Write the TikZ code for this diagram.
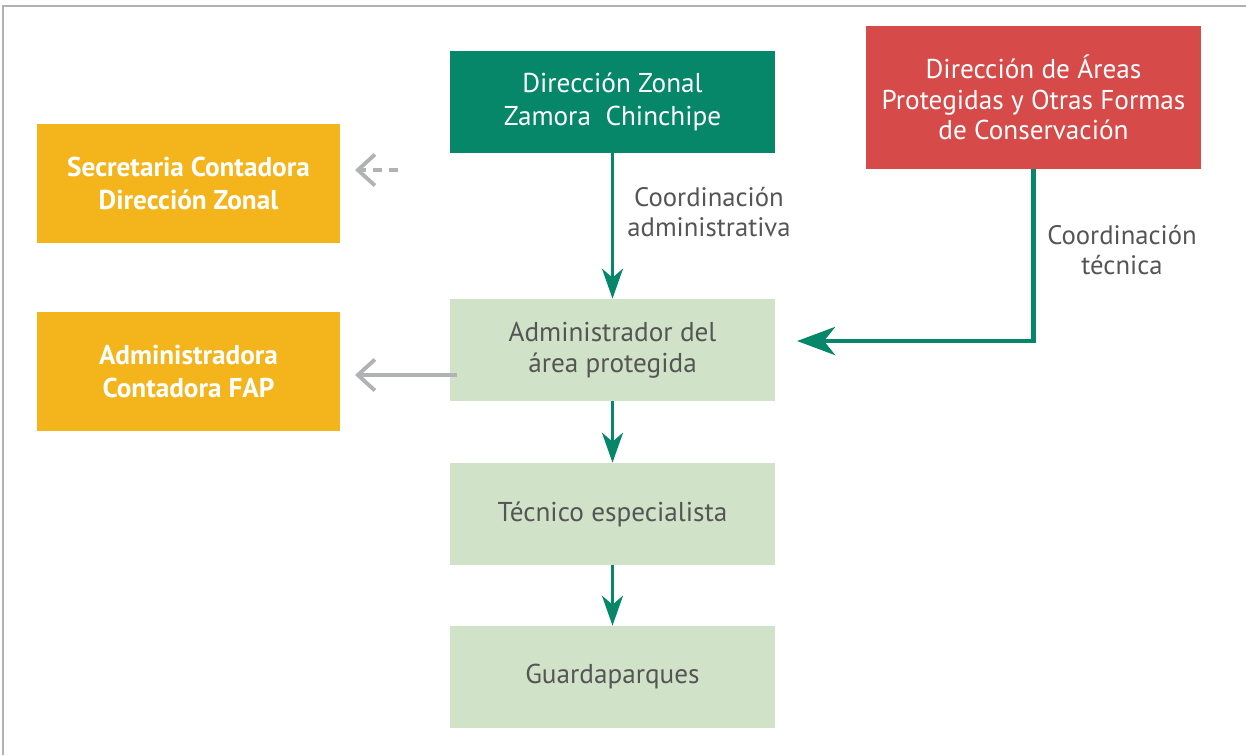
\documentclass[tikz,border=0pt]{standalone}
\usepackage{fontspec}
\setmainfont{PT Sans}
\usetikzlibrary{arrows.meta}
\definecolor{zonalgreen}{RGB}{6,135,106}
\definecolor{dirred}{RGB}{214,75,74}
\definecolor{fapyellow}{RGB}{244,180,28}
\definecolor{palegreen}{RGB}{208,227,200}
\definecolor{arrowgray}{RGB}{176,178,180}
\definecolor{textgray}{RGB}{85,85,85}
\tikzset{
	unitbox/.style={minimum width=6.5cm, minimum height=2.04cm, align=center, inner sep=0pt, font=\fontsize{15.5}{17.5}\selectfont},
	topbox/.style={unitbox, fill=zonalgreen, text=white, font=\fontsize{15.5}{18.7}\selectfont},
	staffbox/.style={unitbox, fill=palegreen, text=textgray},
	sidebox/.style={unitbox, minimum width=6.06cm, minimum height=2.38cm, fill=fapyellow, text=white, font=\bfseries\fontsize{15.5}{18.3}\selectfont},
	flow/.style={draw=zonalgreen, line width=1.7pt, -{Stealth[length=0.6cm, width=0.42cm, inset=0.18cm]}},
	sideflow/.style={draw=arrowgray, line width=2.2pt, -{Straight Barb[length=0.34cm, width=0.62cm]}},
	tag/.style={text=textgray, align=center, font=\fontsize{15.2}{17.5}\selectfont}
}

\begin{document}
\begin{tikzpicture}[x=0.02cm, y=-0.02cm]
		%%%%% START %%%%%
		
		\useasboundingbox (0, 0) rectangle (1246, 755);
		\draw[gray!60, line width=0.8pt] (3, 755) -- (3, 6) -- (1246, 6);
		
		\node[topbox] (zonal) at (612.5, 102) {Dirección Zonal\\Zamora\ \ Chinchipe};
		\node[unitbox, minimum width=6.7cm, minimum height=2.86cm, fill=dirred, text=white] (areas) at (1033.5, 97.5) {Dirección de Áreas\\Protegidas y Otras Formas\\de Conservación};
		
		\node[sidebox] (secre) at (188.5, 183.5) {Secretaria Contadora\\Dirección Zonal};
		\node[sidebox] (conta) at (188.5, 371.5) {Administradora\\Contadora FAP};
		
		\node[staffbox] (admin) at (612.5, 350) {Administrador del\\área protegida};
		\node[staffbox] (tecnico) at (612.5, 514) {Técnico especialista};
		\node[staffbox] (guarda) at (612.5, 677) {Guardaparques};
		
		\draw[flow] (zonal) -- (admin);
		\draw[flow] (admin) -- (tecnico);
		\draw[flow] (tecnico) -- (guarda);
		
		\coordinate (tecend) at (797, 341);
		\draw[draw=zonalgreen, line width=2.8pt, -{Stealth[length=0.76cm, width=0.56cm, inset=0.22cm]}] (areas.south) |- (tecend);
		
		\node[tag] (coadm) at (709, 212) {Coordinación\\administrativa};
		\node[tag] (cotec) at (1122, 250) {Coordinación\\técnica};
		
		\coordinate (dashstart) at (398, 170);
		\coordinate (dashend) at (355, 170);
		\draw[sideflow, dash pattern=on 5pt off 4pt] (dashstart) -- (dashend);
		
		\coordinate (graystart) at (457, 375);
		\coordinate (grayend) at (355, 375);
		\draw[sideflow] (graystart) -- (grayend);
		
		%%%%% END %%%%%
\end{tikzpicture}
\end{document}
